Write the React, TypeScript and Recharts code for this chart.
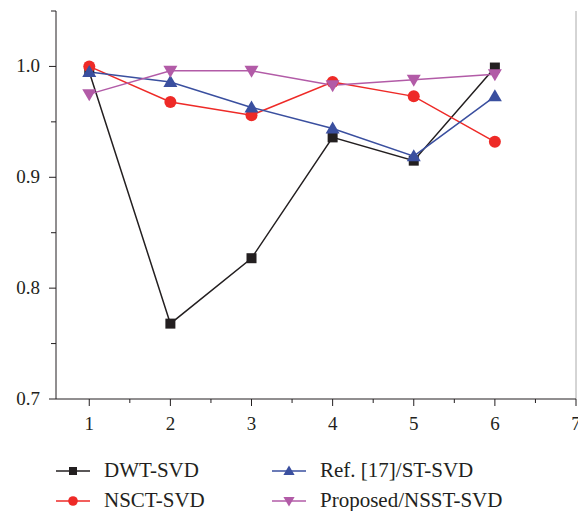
import React from "react";
import { LineChart, Line, XAxis, YAxis, ReferenceLine } from "recharts";

const steps = [1, 2, 3, 4, 5, 6];
const dwtSvd = [0.995, 0.768, 0.827, 0.936, 0.915, 0.999];
const nsctSvd = [1.0, 0.968, 0.956, 0.986, 0.973, 0.932];
const stSvd = [0.995, 0.986, 0.963, 0.944, 0.919, 0.973];
const nsstSvd = [0.975, 0.996, 0.996, 0.983, 0.988, 0.993];

const xTicks = [1, 1.5, 2, 2.5, 3, 3.5, 4, 4.5, 5, 5.5, 6, 6.5, 7];
const yTicks = [0.7, 0.75, 0.8, 0.85, 0.9, 0.95, 1.0, 1.05];

const FONT = "'Liberation Serif', 'DejaVu Serif', serif";

const rows = steps.map((s, i) => ({
  step: s,
  dwt: dwtSvd[i],
  nsct: nsctSvd[i],
  st: stSvd[i],
  nsst: nsstSvd[i]
}));

const series = [
  { key: "dwt", name: "DWT-SVD", color: "#231f20", shape: "square" },
  { key: "nsct", name: "NSCT-SVD", color: "#ee2a27", shape: "circle" },
  { key: "st", name: "Ref. [17]/ST-SVD", color: "#3a4f9f", shape: "up" },
  { key: "nsst", name: "Proposed/NSST-SVD", color: "#b25ba7", shape: "down" }
];

function Marker({ cx, cy, shape, color, s = 1 }: any) {
  if (cx == null || cy == null) return null;
  if (shape === "square") {
    const h = 5 * s;
    return <rect x={cx - h} y={cy - h} width={2 * h} height={2 * h} fill={color} />;
  }
  if (shape === "circle") return <circle cx={cx} cy={cy} r={6 * s} fill={color} />;
  const w = 7 * s;
  if (shape === "up")
    return <polygon points={`${cx},${cy - 7 * s} ${cx - w},${cy + 5 * s} ${cx + w},${cy + 5 * s}`} fill={color} />;
  return <polygon points={`${cx},${cy + 7 * s} ${cx - w},${cy - 5 * s} ${cx + w},${cy - 5 * s}`} fill={color} />;
}

function XTick({ x, y, payload }: any) {
  const major = Number.isInteger(payload.value);
  return (
    <g>
      <line x1={x} x2={x} y1={y - 8} y2={y - 8 + (major ? 7 : 4)} stroke="#231f20" />
      {major && (
        <text x={x} y={y + 23} textAnchor="middle" fontSize={19} fontFamily={FONT} fill="#231f20">
          {payload.value}
        </text>
      )}
    </g>
  );
}

function TopTick({ x, y, payload }: any) {
  const major = Number.isInteger(payload.value);
  return <line x1={x} x2={x} y1={y + 8} y2={y + 8 + (major ? 4 : 3)} stroke="#777" />;
}

function YTick({ x, y, payload }: any) {
  const v = Math.round(payload.value * 100);
  const major = v % 10 === 0;
  return (
    <g>
      <line x1={x + 8} x2={x + 8 - (major ? 7 : 5)} y1={y} y2={y} stroke="#231f20" />
      {major && (
        <text x={x - 8} y={y + 6} textAnchor="end" fontSize={19} fontFamily={FONT} fill="#231f20">
          {(v / 100).toFixed(1)}
        </text>
      )}
    </g>
  );
}

function LegendItem({ s, left, top }: any) {
  return (
    <div style={{ position: "absolute", left, top, display: "flex", alignItems: "center" }}>
      <svg width={36} height={16}>
        <line x1={0} x2={34} y1={8} y2={8} stroke={s.color} strokeWidth={1.5} />
        <Marker cx={17} cy={8} shape={s.shape} color={s.color} s={0.8} />
      </svg>
      <span style={{ marginLeft: 12, fontFamily: FONT, fontSize: 21, color: "#231f20" }}>{s.name}</span>
    </div>
  );
}

export default function App() {
  return (
    <div style={{ position: "absolute", left: 0, top: 0, width: 578, height: 511, background: "#fff" }}>
      <LineChart width={578} height={440} data={rows} margin={{ top: 11, right: 2, bottom: 0, left: 0 }}>
        <XAxis
          dataKey="step"
          type="number"
          domain={[0.59, 7]}
          ticks={xTicks}
          tick={<XTick />}
          tickLine={false}
          axisLine={{ stroke: "#231f20" }}
          height={41}
          interval={0}
          allowDataOverflow
        />
        <XAxis
          xAxisId="top"
          orientation="top"
          dataKey="step"
          type="number"
          domain={[0.59, 7]}
          ticks={xTicks}
          tick={<TopTick />}
          tickLine={false}
          axisLine={{ stroke: "#555" }}
          height={0}
          interval={0}
          allowDataOverflow
        />
        <YAxis
          type="number"
          domain={[0.7, 1.05]}
          ticks={yTicks}
          tick={<YTick />}
          tickLine={false}
          axisLine={{ stroke: "#231f20" }}
          width={56}
          interval={0}
          allowDataOverflow
        />
        <ReferenceLine x={7} stroke="#aaa" />
        {series.map((s) => (
          <Line
            key={s.key}
            dataKey={s.key}
            name={s.name}
            stroke={s.color}
            strokeWidth={1.5}
            isAnimationActive={false}
            dot={(p: any) => <Marker key={`${s.key}-${p.index}`} cx={p.cx} cy={p.cy} shape={s.shape} color={s.color} />}
            activeDot={false}
          />
        ))}
      </LineChart>
      <LegendItem s={series[0]} left={56} top={458} />
      <LegendItem s={series[1]} left={56} top={488} />
      <LegendItem s={series[2]} left={272} top={458} />
      <LegendItem s={series[3]} left={272} top={488} />
    </div>
  );
}
